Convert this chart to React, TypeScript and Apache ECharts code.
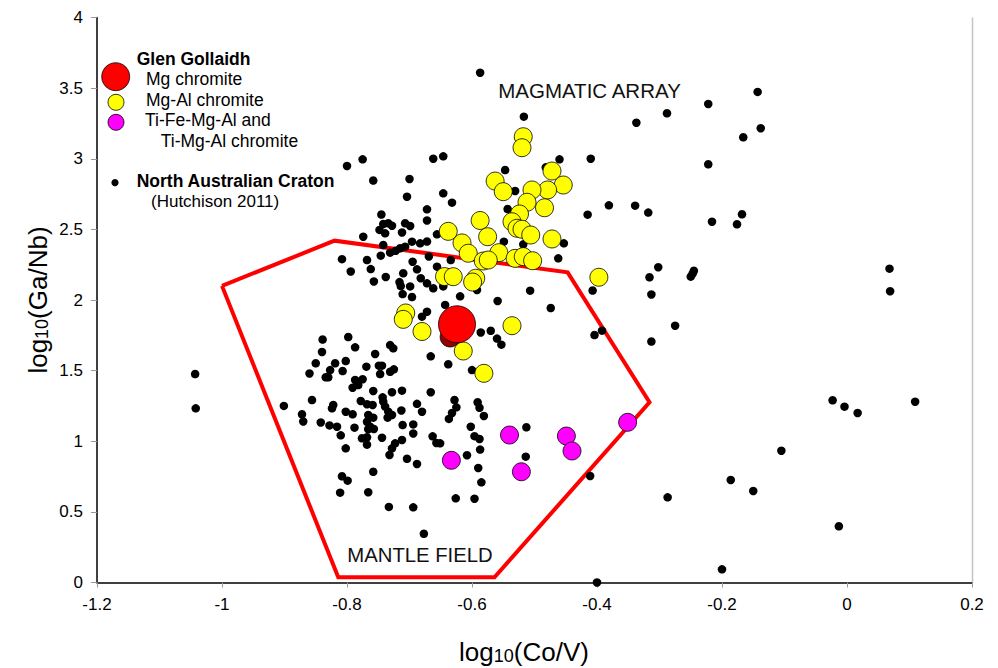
import React, { useEffect, useRef } from "react";
import * as echarts from "echarts";

const FONT = "'Liberation Sans', Arial, Helvetica, sans-serif";

// North Australian Craton (Hutchison 2011) – upper cluster
const cratonUpper: [number, number][] = [
  [-0.800, 2.949], [-0.775, 2.996], [-0.758, 2.846], [-0.662, 3.000], [-0.646, 3.017], [-0.700, 2.857],
  [-0.704, 2.731], [-0.646, 2.755], [-0.632, 2.689], [-0.672, 2.642], [-0.672, 2.563], [-0.745, 2.605],
  [-0.742, 2.538], [-0.734, 2.543], [-0.728, 2.526], [-0.748, 2.496], [-0.739, 2.472], [-0.707, 2.543],
  [-0.699, 2.524], [-0.712, 2.478], [-0.774, 2.448], [-0.742, 2.389], [-0.696, 2.413], [-0.683, 2.401],
  [-0.672, 2.414], [-0.707, 2.377], [-0.715, 2.366], [-0.722, 2.349], [-0.731, 2.335], [-0.746, 2.314],
  [-0.808, 2.289], [-0.768, 2.283], [-0.762, 2.219], [-0.794, 2.202], [-0.757, 2.131], [-0.738, 2.163],
  [-0.695, 2.271], [-0.688, 2.217], [-0.710, 2.189], [-0.716, 2.127], [-0.714, 2.099], [-0.699, 2.096],
  [-0.711, 2.042], [-0.696, 2.021], [-0.682, 2.154], [-0.672, 2.118], [-0.669, 2.308], [-0.656, 2.465],
  [-0.656, 2.236], [-0.634, 2.283], [-0.662, 2.083], [-0.646, 2.096], [-0.619, 2.026], [-0.643, 1.965],
  [-0.672, 1.917], [-0.680, 1.882], [-0.592, 2.071], [-0.559, 1.993], [-0.586, 1.770], [-0.570, 1.782],
  [-0.560, 1.727], [-0.553, 1.684], [-0.666, 1.601], [-0.638, 1.545], [-0.600, 1.504],
  [-0.587, 3.609], [-0.517, 3.298], [-0.460, 2.996], [-0.410, 3.000], [-0.337, 3.255], [-0.547, 2.920],
  [-0.482, 2.939], [-0.543, 2.644], [-0.531, 2.772], [-0.415, 2.604], [-0.381, 2.670], [-0.339, 2.668],
  [-0.318, 2.619], [-0.453, 2.401], [-0.549, 2.413], [-0.518, 2.394], [-0.462, 2.295], [-0.507, 2.066],
  [-0.474, 1.943], [-0.407, 2.067], [-0.404, 1.752], [-0.392, 1.783], [-0.316, 2.161], [-0.313, 2.039],
  [-0.313, 1.706], [-0.839, 1.720], [-0.798, 1.738],
];

// North Australian Craton – scattered points to the right
const cratonEast: [number, number][] = [
  [-0.143, 3.473], [-0.222, 3.388], [-0.288, 3.322], [-0.138, 3.216], [-0.166, 3.152], [-0.222, 2.961],
  [-0.216, 2.554], [-0.168, 2.607], [-0.176, 2.536], [-0.302, 2.232], [-0.245, 2.207], [-0.247, 2.186],
  [-0.250, 2.165], [0.068, 2.222], [0.069, 2.062], [-0.275, 1.818], [-0.023, 1.290], [-0.004, 1.245],
  [0.017, 1.200], [0.109, 1.280], [-0.105, 0.933], [-0.186, 0.726], [-0.150, 0.648], [-0.287, 0.603],
  [-0.013, 0.398], [-0.200, 0.093], [-0.400, 0.000], [-0.411, 0.754], [-0.513, 1.099], [-0.514, 0.891],
];

// North Australian Craton – lower cluster (mantle field)
const cratonLower: [number, number][] = [
  [-0.787, 1.665], [-0.840, 1.632], [-0.755, 1.618], [-0.731, 1.681], [-0.726, 1.658], [-0.850, 1.552],
  [-0.819, 1.552], [-0.802, 1.568], [-0.827, 1.504], [-0.860, 1.480], [-0.834, 1.453], [-0.830, 1.453],
  [-0.807, 1.497], [-0.769, 1.528], [-0.749, 1.535], [-0.744, 1.535], [-0.747, 1.476], [-0.731, 1.492],
  [-0.725, 1.509], [-0.787, 1.434], [-0.775, 1.439], [-0.791, 1.379], [-0.782, 1.398], [-0.758, 1.356],
  [-0.728, 1.347], [-0.712, 1.358], [-0.666, 1.347], [-0.901, 1.250], [-0.856, 1.292], [-0.872, 1.191],
  [-0.870, 1.140], [-0.842, 1.133], [-0.828, 1.112], [-0.816, 1.103], [-0.824, 1.233], [-0.822, 1.257],
  [-0.802, 1.209], [-0.791, 1.191], [-0.778, 1.285], [-0.768, 1.262], [-0.759, 1.257], [-0.743, 1.311],
  [-0.742, 1.280], [-0.739, 1.245], [-0.734, 1.209], [-0.728, 1.186], [-0.766, 1.186], [-0.758, 1.167],
  [-0.768, 1.138], [-0.763, 1.103], [-0.757, 1.087], [-0.766, 1.085], [-0.788, 1.096], [-0.810, 1.042],
  [-0.776, 1.021], [-0.768, 1.028], [-0.768, 0.976], [-0.744, 1.025], [-0.735, 1.167], [-0.713, 1.218],
  [-0.711, 1.115], [-0.694, 1.119], [-0.694, 1.055], [-0.688, 1.265], [-0.680, 1.209], [-0.712, 1.009],
  [-0.723, 0.985], [-0.728, 0.950], [-0.732, 0.903], [-0.802, 0.950], [-0.704, 0.876], [-0.688, 0.839],
  [-0.758, 0.784], [-0.808, 0.752], [-0.799, 0.721], [-0.811, 0.636], [-0.766, 0.639], [-0.733, 0.535],
  [-0.694, 0.532], [-0.677, 0.345], [-0.663, 1.035], [-0.657, 0.988], [-0.651, 0.985], [-0.628, 1.292],
  [-0.625, 1.240], [-0.632, 1.200], [-0.637, 1.158], [-0.591, 1.276], [-0.588, 1.237], [-0.581, 1.179],
  [-0.602, 1.103], [-0.596, 1.036], [-0.588, 1.016], [-0.587, 0.941], [-0.608, 0.901], [-0.590, 0.811],
  [-0.585, 0.709], [-0.626, 0.596], [-0.596, 0.593], [-1.043, 1.476], [-1.042, 1.233],
];

// Glen Gollaidh – Mg-Al chromite
const mgAlChromite: [number, number][] = [
  [-0.518, 3.156], [-0.520, 3.078], [-0.563, 2.842], [-0.550, 2.767], [-0.472, 2.913], [-0.454, 2.814],
  [-0.479, 2.779], [-0.484, 2.653], [-0.504, 2.779], [-0.512, 2.692], [-0.524, 2.609], [-0.536, 2.554],
  [-0.528, 2.508], [-0.520, 2.501], [-0.506, 2.460], [-0.587, 2.563], [-0.575, 2.448], [-0.638, 2.486],
  [-0.616, 2.404], [-0.606, 2.331], [-0.472, 2.432], [-0.557, 2.335], [-0.582, 2.276], [-0.574, 2.283],
  [-0.531, 2.295], [-0.518, 2.307], [-0.503, 2.278], [-0.644, 2.166], [-0.630, 2.165], [-0.594, 2.154],
  [-0.599, 2.127], [-0.397, 2.161], [-0.536, 1.818], [-0.614, 1.639], [-0.581, 1.481], [-0.680, 1.777],
  [-0.706, 1.908], [-0.710, 1.863],
];

// Glen Gollaidh – Ti-Fe-Mg-Al and Ti-Mg-Al chromite
const tiChromite: [number, number][] = [
  [-0.540, 1.044], [-0.633, 0.865], [-0.521, 0.784], [-0.449, 1.037], [-0.440, 0.931], [-0.351, 1.134],
];

// Glen Gollaidh – Mg chromite
const mgChromite: [number, number][] = [[-0.624, 1.828]];
const mgChromiteBehind: [number, number][] = [[-0.635, 1.738]];

// Mantle field outline
const mantleX = [-1.0, -0.82, -0.447, -0.316, -0.564, -0.814, -1.0];
const mantleY = [2.1, 2.42, 2.196, 1.276, 0.037, 0.037, 2.1];

const xTicks = { min: -1.2, max: 0.2, interval: 0.2 };
const yTicks = { min: 0, max: 4, interval: 0.5 };

export default function App() {
  const ref = useRef<HTMLDivElement>(null);

  useEffect(() => {
    if (!ref.current) return;
    const chart = echarts.init(ref.current, null, { renderer: "svg" });

    const axisLabel = { fontSize: 17, color: "#000", fontFamily: FONT };
    const titleRich = {
      a: { fontSize: 26, fontFamily: FONT, fill: "#000", verticalAlign: "bottom" },
      b: { fontSize: 18, fontFamily: FONT, fill: "#000", verticalAlign: "bottom" },
    };
    const txt = (x: number, y: number, text: string, size: number, bold = false) => ({
      type: "text",
      x,
      y,
      silent: true,
      z: 100,
      style: {
        text,
        fontSize: size,
        fontWeight: bold ? "bold" : "normal",
        fontFamily: FONT,
        fill: "#000",
        verticalAlign: "middle",
        align: "left",
      },
    });

    const option: any = {
      animation: false,
      backgroundColor: "#ffffff",
      grid: { left: 97, right: 26, top: 17.5, bottom: 85.5 },
      xAxis: {
        type: "value",
        min: xTicks.min,
        max: xTicks.max,
        interval: xTicks.interval,
        axisLine: { show: true, onZero: false, lineStyle: { color: "#000", width: 1.5 } },
        axisTick: { show: true, length: 5, lineStyle: { color: "#999", width: 1 } },
        splitLine: { show: false },
        axisLabel: { ...axisLabel, margin: 13 },
      },
      yAxis: {
        type: "value",
        min: yTicks.min,
        max: yTicks.max,
        interval: yTicks.interval,
        axisLine: { show: true, onZero: false, lineStyle: { color: "#000", width: 1.5 } },
        axisTick: { show: true, length: 6, lineStyle: { color: "#999", width: 1 } },
        splitLine: { show: false },
        axisLabel: { ...axisLabel, margin: 14 },
      },
      series: [
        {
          name: "Mantle field",
          type: "line",
          data: mantleX.map((x, i) => [x, mantleY[i]]),
          symbol: "none",
          silent: true,
          z: 1,
          lineStyle: { color: "#ff0000", width: 4, join: "miter", opacity: 1 },
        },
        {
          name: "North Australian Craton",
          type: "scatter",
          data: [...cratonUpper, ...cratonEast, ...cratonLower],
          symbolSize: 8.5,
          z: 2,
          itemStyle: { color: "#000000", opacity: 1 },
        },
        {
          name: "Mg-Al chromite",
          type: "scatter",
          data: mgAlChromite,
          symbolSize: 18,
          z: 3,
          itemStyle: { color: "#ffff00", borderColor: "#000", borderWidth: 0.8, opacity: 1 },
        },
        {
          name: "Mg chromite (behind)",
          type: "scatter",
          data: mgChromiteBehind,
          symbolSize: 20,
          z: 4,
          itemStyle: { color: "#990000", borderColor: "#000", borderWidth: 0.8, opacity: 1 },
        },
        {
          name: "Mg chromite",
          type: "scatter",
          data: mgChromite,
          symbolSize: 37,
          z: 5,
          itemStyle: { color: "#ff0000", borderColor: "#000", borderWidth: 0.8, opacity: 1 },
        },
        {
          name: "Ti-Fe-Mg-Al and Ti-Mg-Al chromite",
          type: "scatter",
          data: tiChromite,
          symbolSize: 18,
          z: 6,
          itemStyle: { color: "#ff00ff", borderColor: "#000", borderWidth: 0.8, opacity: 1 },
        },
      ],
      graphic: [
        {
          type: "line",
          silent: true,
          shape: { x1: 972.5, y1: 17.5, x2: 972.5, y2: 582.5 },
          style: { stroke: "#c4c4c4", lineWidth: 1.5 },
        },
        { type: "circle", silent: true, z: 100, shape: { cx: 115.7, cy: 76.7, r: 14 }, style: { fill: "#ff0000", stroke: "#000", lineWidth: 0.8 } },
        { type: "circle", silent: true, z: 100, shape: { cx: 116, cy: 102.3, r: 8 }, style: { fill: "#ffff00", stroke: "#000", lineWidth: 0.8 } },
        { type: "circle", silent: true, z: 100, shape: { cx: 116, cy: 122.3, r: 8 }, style: { fill: "#ff00ff", stroke: "#000", lineWidth: 0.8 } },
        { type: "circle", silent: true, z: 100, shape: { cx: 115, cy: 182.7, r: 3.6 }, style: { fill: "#000" } },
        txt(136.7, 59, "Glen Gollaidh", 17.5, true),
        txt(146, 78.5, "Mg chromite", 17.5),
        txt(146, 100, "Mg-Al chromite", 17.5),
        txt(145, 120, "Ti-Fe-Mg-Al and", 17.5),
        txt(160.7, 141, "Ti-Mg-Al chromite", 17.5),
        txt(136.7, 181, "North Australian Craton", 17.5, true),
        txt(151, 201.7, "(Hutchison 2011)", 17),
        {
          type: "text",
          x: 589.5,
          y: 90.3,
          silent: true,
          style: { text: "MAGMATIC ARRAY", fontSize: 20.5, fontFamily: FONT, fill: "#111", align: "center", verticalAlign: "middle" },
        },
        {
          type: "text",
          x: 420,
          y: 555,
          silent: true,
          style: { text: "MANTLE FIELD", fontSize: 20.3, fontFamily: FONT, fill: "#111", align: "center", verticalAlign: "middle" },
        },
        {
          type: "text",
          x: 524,
          y: 652,
          silent: true,
          style: { text: "{a|log}{b|10}{a|(Co/V)}", rich: titleRich, align: "center", verticalAlign: "middle" },
        },
        {
          type: "text",
          x: 38,
          y: 300,
          rotation: Math.PI / 2,
          silent: true,
          style: { text: "{a|log}{b|10}{a|(Ga/Nb)}", rich: titleRich, align: "center", verticalAlign: "middle" },
        },
      ],
    };

    chart.setOption(option);
    return () => chart.dispose();
  }, []);

  return (
    <div
      ref={ref}
      style={{ position: "fixed", left: 0, top: 0, width: 998, height: 668, background: "#fff" }}
    />
  );
}
